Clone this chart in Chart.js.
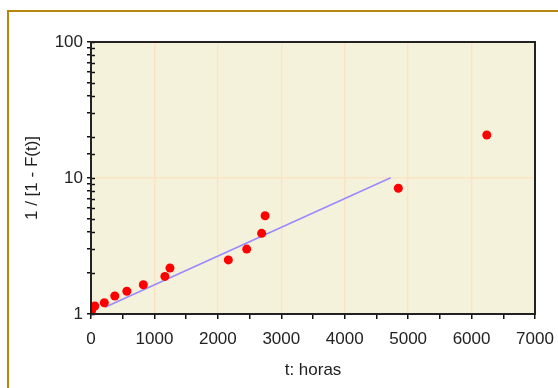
<!DOCTYPE html>
<html>
<head>
<meta charset="utf-8">
<script src="https://cdn.jsdelivr.net/npm/chart.js@4.4.1/dist/chart.umd.min.js"></script>
<style>
  html, body { margin: 0; padding: 0; background: #fff; overflow: hidden; }
  #wrap { position: relative; width: 558px; height: 388px; }
</style>
</head>
<body>
<div id="wrap"><canvas id="grafico" width="558" height="388"></canvas></div>
<script>
// dados
const tempos = [10, 60, 210, 375, 565, 825, 1165, 1245, 2165, 2455, 2690, 2745, 4845, 6240];
const valores = [1.06, 1.145, 1.21, 1.355, 1.47, 1.64, 1.89, 2.18, 2.5, 3.0, 3.92, 5.28, 8.4, 20.7];
const retaX = [220, 4725];
const retaY = [1.12, 10.05];
const rotulosY = [1, 10, 100];

const fonte = { family: "Arial, 'Liberation Sans', sans-serif", size: 17 };

// fundo da área, moldura e tracinhos do eixo y
const moldura = {
    id: "moldura",
    beforeDraw(chart) {
        const ctx = chart.ctx;
        const a = chart.chartArea;
        ctx.save();
        ctx.fillStyle = "#B8860B";
        ctx.fillRect(7, 10, 551, 2);
        ctx.fillRect(7, 10, 2, 378);
        ctx.fillStyle = "#F4F2DB";
        ctx.fillRect(a.left, a.top, a.right - a.left, a.bottom - a.top);
        ctx.restore();
    },
    afterDraw(chart) {
        const ctx = chart.ctx;
        const a = chart.chartArea;
        const y = chart.scales.y;
        ctx.save();
        ctx.strokeStyle = "#111";
        ctx.lineWidth = 1.5;
        ctx.beginPath();
        y.ticks.forEach(function (t) {
            const py = Math.round(y.getPixelForValue(t.value)) + 0.5;
            ctx.moveTo(a.left, py);
            ctx.lineTo(a.left + 4, py);
        });
        ctx.stroke();
        ctx.lineWidth = 2;
        ctx.strokeStyle = "#222";
        ctx.strokeRect(a.left, a.top, a.right - a.left, a.bottom - a.top);
        ctx.restore();
    }
};

const ctx = document.getElementById("grafico").getContext("2d");
new Chart(ctx, {
    type: "scatter",
    data: {
        datasets: [
            {
                data: tempos.map((t, i) => ({ x: t, y: valores[i] })),
                backgroundColor: "#FF0000",
                borderColor: "#FF0000",
                pointRadius: 4.5,
                borderWidth: 0,
                order: 1
            },
            {
                type: "line",
                data: retaX.map((t, i) => ({ x: t, y: retaY[i] })),
                borderColor: "#9A88FF",
                borderWidth: 1.5,
                pointRadius: 0,
                fill: false,
                order: 2
            }
        ]
    },
    options: {
        responsive: false,
        animation: false,
        layout: { padding: { left: 0, top: 42, right: 23, bottom: 0 } },
        plugins: { legend: { display: false }, tooltip: { enabled: false } },
        scales: {
            x: {
                type: "linear",
                min: 0,
                max: 7000,
                afterFit: function (s) { s.height = 74; s.paddingRight = 0; s.paddingLeft = 0; },
                ticks: {
                    stepSize: 500,
                    autoSkip: false,
                    maxRotation: 0,
                    padding: 10,
                    color: "#222",
                    font: fonte,
                    callback: v => (v % 1000 === 0 ? String(v) : "")
                },
                grid: {
                    color: c => (c.tick && c.tick.value % 1000 === 0 && c.tick.value > 0 && c.tick.value < 7000 ? "#FBE3C6" : "rgba(0,0,0,0)"),
                    lineWidth: 1.5,
                    tickColor: "#111",
                    tickLength: 5
                },
                border: { display: false },
                title: { display: true, text: "t: horas", color: "#222", font: fonte, padding: { top: 0, bottom: 7 } }
            },
            y: {
                type: "logarithmic",
                min: 1,
                max: 100,
                afterFit: function (s) { s.width = 91; s.paddingTop = 0; s.paddingBottom = 0; },
                ticks: {
                    autoSkip: false,
                    padding: 4,
                    color: "#222",
                    font: fonte,
                    callback: v => (rotulosY.includes(v) ? String(v) : "")
                },
                grid: {
                    color: c => (c.tick && c.tick.value === 10 ? "#FBE3C6" : "rgba(0,0,0,0)"),
                    lineWidth: 1.5,
                    tickColor: "#111",
                    tickLength: 4
                },
                border: { display: false },
                title: { display: true, text: "1 / [1 - F(t)]", color: "#222", font: fonte, padding: { top: 22, bottom: 0 } }
            }
        }
    },
    plugins: [moldura]
});
</script>
</body>
</html>
